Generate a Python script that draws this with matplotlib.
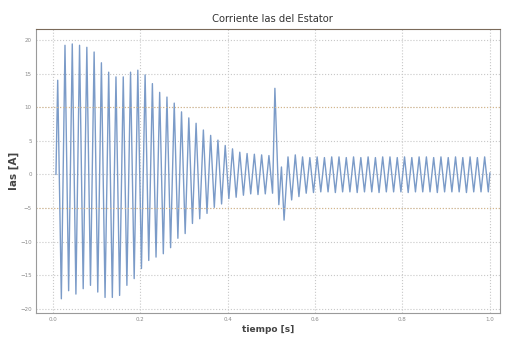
import matplotlib
matplotlib.use("Agg")
import matplotlib.pyplot as plt
import numpy as np

# stator current, 60 Hz, one peak and one trough per cycle
f_red = 60.0
t_start = 0.011

# start-up transient (cycles 0..29)
picos_arranque = [14.0, 19.2, 19.4, 19.2, 18.9, 18.2, 16.6, 15.2, 14.5, 14.5,
                  15.2, 15.5, 14.8, 13.5, 12.2, 11.5, 10.6, 9.3, 8.4, 7.6,
                  6.6, 5.8, 5.1, 4.3, 3.8, 3.3, 3.1, 3.0, 2.9, 2.8]
valles_arranque = [-18.5, -17.3, -17.8, -17.0, -16.5, -17.5, -18.3, -18.3, -18.0, -16.5,
                   -15.5, -14.0, -12.8, -12.3, -11.8, -10.9, -9.5, -8.8, -7.3, -6.6,
                   -5.8, -4.9, -4.4, -3.6, -3.4, -3.1, -2.9, -3.0, -2.9, -2.8]

# load step at t = 0.5 s
t_escalon = [0.508, 0.517, 0.523, 0.529]
v_escalon = [12.8, -4.5, 1.1, -6.8]

# steady state after the step (cycles starting at 0.538 s)
t_regimen = 0.538
picos_regimen = [2.6, 2.9, 2.6, 2.5, 2.6, 2.5, 2.6, 2.6, 2.5, 2.6,
                 2.5, 2.6, 2.5, 2.6, 2.6, 2.5, 2.6, 2.5, 2.6, 2.6,
                 2.5, 2.6, 2.5, 2.6, 2.5, 2.6, 2.5, 2.6]
valles_regimen = [-3.8, -3.3, -2.8, -2.7, -2.6, -2.6, -2.7, -2.6, -2.6, -2.7,
                  -2.6, -2.6, -2.7, -2.6, -2.6, -2.6, -2.7, -2.6, -2.6, -2.6,
                  -2.7, -2.6, -2.6, -2.6, -2.7, -2.6, -2.6, -2.6]
t_fin, v_fin = 1.0, 0.2


def zigzag(t0, picos, valles):
    T = 1.0 / f_red
    tt, vv = [], []
    for k, (p, v) in enumerate(zip(picos, valles)):
        tt += [t0 + k * T, t0 + k * T + T / 2]
        vv += [p, v]
    return tt, vv


t1, v1 = zigzag(t_start, picos_arranque, valles_arranque)
t2, v2 = zigzag(t_regimen, picos_regimen, valles_regimen)
t = [t_start - 0.004] + t1 + t_escalon + t2 + [t_fin]
v = [0.0] + v1 + v_escalon + v2 + [v_fin]

fig = plt.figure(figsize=(5.05, 3.39), dpi=100)
ax = fig.add_axes([0.071, 0.077, 0.919, 0.837])

ax.plot(t, v, color='#7b9bc8', lw=1.0)

ax.set_xlim(-0.039, 1.023)
ax.set_ylim(-20.6, 21.6)
ax.set_xticks(np.arange(0, 1.01, 0.2))
ax.set_yticks(np.arange(-20, 21, 5))
ax.grid(True, color='#c8c8c8', linestyle=':', linewidth=0.8)
# the scan shows two grid lines in a tan colour
ax.axhline(10, color='#d6b68a', lw=0.8, ls=':')
ax.axhline(-5, color='#d6b68a', lw=0.8, ls=':')

ax.tick_params(length=0, labelsize=4, labelcolor='#8a8a8a', pad=3)
for s in ax.spines.values():
    s.set_color('#9a9a9a')
    s.set_linewidth(0.8)
ax.spines['top'].set_color('#7a6a5a')

ax.set_title("Corriente Ias del Estator", fontsize=8, fontstretch='condensed',
             family='DejaVu Sans', color='#333333', pad=5, x=0.51)
ax.set_xlabel("tiempo [s]", fontsize=6.5, fontweight='bold', color='#444444', labelpad=2)
ax.set_ylabel("Ias [A]", fontsize=7.5, fontweight='bold', color='#444444')
ax.yaxis.set_label_coords(-0.036, 0.5)

fig.savefig("out.png", dpi=100)
